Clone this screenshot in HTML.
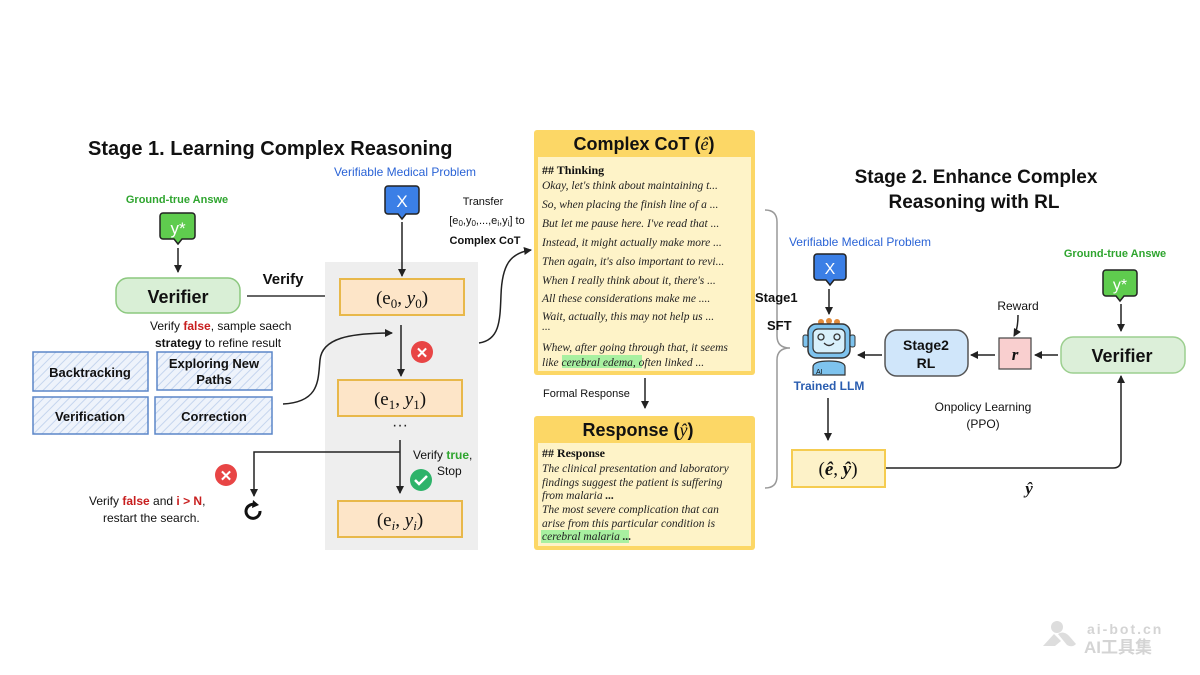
<!DOCTYPE html>
<html><head><meta charset="utf-8"><style>
html,body{margin:0;padding:0;background:#fff;}
svg{display:block;font-family:"Liberation Sans","Noto Sans CJK SC",sans-serif;}
.it{font-family:"Liberation Serif",serif;font-style:italic;font-size:11.5px;fill:#222;}
.ser{font-family:"Liberation Serif",serif;}
</style></head><body>
<svg width="1200" height="675" viewBox="0 0 1200 675" xmlns="http://www.w3.org/2000/svg">
<defs>
<marker id="ar" markerWidth="8" markerHeight="8" refX="7" refY="4" orient="auto" markerUnits="userSpaceOnUse"><path d="M0,0 L8,4 L0,8 Z" fill="#222"/></marker>
<pattern id="hatch" width="6" height="6" patternUnits="userSpaceOnUse" patternTransform="rotate(45)"><rect width="6" height="6" fill="#eef3fb"/><line x1="0" y1="0" x2="0" y2="6" stroke="#c5d5ee" stroke-width="2"/></pattern>
</defs>
<rect width="1200" height="675" fill="#fff"/>

<!-- Stage 1 -->
<text x="88" y="155" font-size="20" font-weight="bold" fill="#111">Stage 1. Learning Complex Reasoning</text>
<text x="405" y="176" font-size="12" fill="#2a63d6" text-anchor="middle">Verifiable Medical Problem</text>
<path d="M388,186 h28 a3,3 0 0 1 3,3 v22 a3,3 0 0 1 -3,3 h-10 l-4,5 l-4,-5 h-10 a3,3 0 0 1 -3,-3 v-22 a3,3 0 0 1 3,-3z" fill="#3b7fe6" stroke="#222" stroke-width="1.5"/>
<text x="402" y="207" font-size="17" fill="#fff" text-anchor="middle">X</text>
<text x="177" y="203" font-size="11" font-weight="bold" fill="#2fa52f" text-anchor="middle">Ground-true Answe</text>
<path d="M163,213 h29 a3,3 0 0 1 3,3 v20 a3,3 0 0 1 -3,3 h-10 l-4,5 l-4,-5 h-11 a3,3 0 0 1 -3,-3 v-20 a3,3 0 0 1 3,-3z" fill="#5fcc4e" stroke="#222" stroke-width="1.5"/>
<text x="178" y="234" font-size="17" fill="#fff" text-anchor="middle">y*</text>
<line x1="178" y1="248" x2="178" y2="272" stroke="#222" stroke-width="1.5" marker-end="url(#ar)"/>
<rect x="116" y="278" width="124" height="35" rx="12" fill="#d9efd6" stroke="#8cc87f" stroke-width="1.5"/>
<text x="178" y="303" font-size="18" font-weight="bold" text-anchor="middle" fill="#111">Verifier</text>
<text x="283" y="284" font-size="15" font-weight="bold" text-anchor="middle" fill="#111">Verify</text>
<line x1="247" y1="296" x2="334" y2="296" stroke="#333" stroke-width="1.5" marker-end="url(#ar)"/>

<rect x="325" y="262" width="153" height="288" fill="#eeeeee"/>
<line x1="402" y1="222" x2="402" y2="276" stroke="#222" stroke-width="1.5" marker-end="url(#ar)"/>
<rect x="340" y="279" width="124" height="36" fill="#fde5c8" stroke="#e8b84a" stroke-width="2"/>
<text x="402" y="304" font-size="19" class="ser" text-anchor="middle" fill="#111">(e<tspan font-size="13" dy="4">0</tspan><tspan dy="-4">, </tspan><tspan font-style="italic">y</tspan><tspan font-size="13" dy="4">0</tspan><tspan dy="-4">)</tspan></text>
<line x1="401" y1="325" x2="401" y2="376" stroke="#222" stroke-width="1.5" marker-end="url(#ar)"/>
<circle cx="422" cy="352" r="11" fill="#e84545"/><text x="422" y="358" font-size="15" font-weight="bold" fill="#fff" text-anchor="middle">✕</text>
<rect x="338" y="380" width="124" height="36" fill="#fde5c8" stroke="#e8b84a" stroke-width="2"/>
<text x="400" y="405" font-size="19" class="ser" text-anchor="middle" fill="#111">(e<tspan font-size="13" dy="4">1</tspan><tspan dy="-4">, </tspan><tspan font-style="italic">y</tspan><tspan font-size="13" dy="4">1</tspan><tspan dy="-4">)</tspan></text>
<text x="400" y="430" font-size="16" text-anchor="middle" fill="#222">···</text>
<line x1="400" y1="440" x2="400" y2="493" stroke="#222" stroke-width="1.5" marker-end="url(#ar)"/>
<polyline points="400,452 254,452 254,496" fill="none" stroke="#222" stroke-width="1.5" marker-end="url(#ar)"/>
<text x="413" y="459" font-size="12" fill="#111">Verify <tspan fill="#2fa52f" font-weight="bold">true</tspan>,</text>
<text x="437" y="475" font-size="12" fill="#111">Stop</text>
<circle cx="421" cy="480" r="11" fill="#2eb36a"/><path d="M415,480 l4,4 l8,-8" fill="none" stroke="#fff" stroke-width="2.5"/>
<rect x="338" y="501" width="124" height="36" fill="#fde5c8" stroke="#e8b84a" stroke-width="2"/>
<text x="400" y="526" font-size="19" class="ser" text-anchor="middle" fill="#111">(e<tspan font-size="13" dy="4" font-style="italic">i</tspan><tspan dy="-4">, </tspan><tspan font-style="italic">y</tspan><tspan font-size="13" dy="4" font-style="italic">i</tspan><tspan dy="-4">)</tspan></text>
<circle cx="226" cy="475" r="11" fill="#e84545"/><text x="226" y="481" font-size="15" font-weight="bold" fill="#fff" text-anchor="middle">✕</text>
<text x="89" y="505" font-size="12" fill="#111">Verify <tspan fill="#c81e1e" font-weight="bold">false</tspan> and <tspan fill="#c81e1e" font-weight="bold">i &gt; N</tspan>,</text>
<text x="103" y="522" font-size="12" fill="#111">restart the search.</text>
<path d="M260,511 a7,7 0 1 1 -4,-6" fill="none" stroke="#111" stroke-width="3"/><path d="M253,500 l6,5 l-7,3z" fill="#111"/>

<text x="150" y="330" font-size="12" fill="#111">Verify <tspan fill="#c81e1e" font-weight="bold">false</tspan>, sample saech</text>
<text x="155" y="347" font-size="12" fill="#111" font-weight="bold">strategy <tspan font-weight="normal">to refine result</tspan></text>
<rect x="33" y="352" width="115" height="39" fill="url(#hatch)" stroke="#5b86c8" stroke-width="1.5"/>
<text x="90" y="377" font-size="13" font-weight="bold" text-anchor="middle" fill="#111">Backtracking</text>
<rect x="157" y="352" width="115" height="38" fill="url(#hatch)" stroke="#5b86c8" stroke-width="1.5"/>
<text x="214" y="368" font-size="13" font-weight="bold" text-anchor="middle" fill="#111">Exploring New</text>
<text x="214" y="384" font-size="13" font-weight="bold" text-anchor="middle" fill="#111">Paths</text>
<rect x="33" y="397" width="115" height="37" fill="url(#hatch)" stroke="#5b86c8" stroke-width="1.5"/>
<text x="90" y="421" font-size="13" font-weight="bold" text-anchor="middle" fill="#111">Verification</text>
<rect x="155" y="397" width="117" height="37" fill="url(#hatch)" stroke="#5b86c8" stroke-width="1.5"/>
<text x="214" y="421" font-size="13" font-weight="bold" text-anchor="middle" fill="#111">Correction</text>
<path d="M283,404 C320,402 318,380 320,360 C322,338 350,333 392,333" fill="none" stroke="#222" stroke-width="1.5" marker-end="url(#ar)"/>

<text x="483" y="205" font-size="11" text-anchor="middle" fill="#111">Transfer</text>
<text x="487" y="224" font-size="11" text-anchor="middle" fill="#111">[e<tspan font-size="8" dy="2">0</tspan><tspan dy="-2">,y</tspan><tspan font-size="8" dy="2">0</tspan><tspan dy="-2">,...,e</tspan><tspan font-size="8" dy="2">i</tspan><tspan dy="-2">,y</tspan><tspan font-size="8" dy="2">i</tspan><tspan dy="-2">] to</tspan></text>
<text x="485" y="244" font-size="11" font-weight="bold" text-anchor="middle" fill="#111">Complex CoT</text>
<path d="M479,343 C500,340 500,320 501,295 C502,265 510,253 531,250" fill="none" stroke="#222" stroke-width="1.5" marker-end="url(#ar)"/>

<!-- Complex CoT -->
<rect x="534" y="130" width="221" height="245" rx="3" fill="#fcd766"/>
<rect x="538" y="157" width="213" height="214" fill="#fef3c8"/>
<text x="644" y="150" font-size="18" font-weight="bold" text-anchor="middle" fill="#111">Complex CoT (<tspan class="ser" font-style="italic" font-weight="normal">ê</tspan>)</text>
<text x="542" y="174" font-size="12" font-weight="bold" class="ser" fill="#111">## Thinking</text>
<text x="542" y="189" class="it">Okay, let's think about maintaining t...</text>
<text x="542" y="208" class="it">So, when placing the finish line of a  ...</text>
<text x="542" y="227" class="it">But let me pause here. I've read that  ...</text>
<text x="542" y="246" class="it">Instead, it might actually make more  ...</text>
<text x="542" y="265" class="it">Then again, it's also important to revi...</text>
<text x="542" y="284" class="it">When I really think about it, there's  ...</text>
<text x="542" y="302" class="it">All these considerations make me  ....</text>
<text x="542" y="320" class="it">Wait, actually, this may not help us ...</text>
<text x="542" y="330" class="it">...</text>
<text x="542" y="351" class="it">Whew, after going through that, it seems</text>
<rect x="562" y="355" width="80" height="13" fill="#a8f0a0"/>
<text x="542" y="366" class="it">like cerebral edema, often linked  ...</text>
<text x="543" y="397" font-size="11" fill="#111">Formal Response</text>
<line x1="645" y1="378" x2="645" y2="408" stroke="#222" stroke-width="1.5" marker-end="url(#ar)"/>
<rect x="534" y="416" width="221" height="134" rx="3" fill="#fcd766"/>
<rect x="538" y="443" width="213" height="103" fill="#fef3c8"/>
<text x="638" y="436" font-size="18" font-weight="bold" text-anchor="middle" fill="#111">Response (<tspan class="ser" font-style="italic" font-weight="normal">ŷ</tspan>)</text>
<text x="542" y="457" font-size="12" font-weight="bold" class="ser" fill="#111">## Response</text>
<text x="542" y="472" class="it">The clinical presentation and laboratory</text>
<text x="542" y="486" class="it">findings suggest the patient is suffering</text>
<text x="542" y="499" class="it">from malaria <tspan font-weight="bold">...</tspan></text>
<text x="542" y="513" class="it">The most severe complication that can</text>
<text x="542" y="527" class="it">arise from this particular condition is</text>
<rect x="541" y="530" width="88" height="13" fill="#a8f0a0"/>
<text x="542" y="540" class="it">cerebral malaria <tspan font-weight="bold">...</tspan></text>

<!-- brace -->
<path d="M765,210 Q777,210 777,222 L777,336 Q777,348 790,348 Q777,348 777,360 L777,476 Q777,488 765,488" fill="none" stroke="#999" stroke-width="1.5"/>
<text x="755" y="302" font-size="13" font-weight="bold" fill="#111">Stage1</text>
<text x="767" y="330" font-size="13" font-weight="bold" fill="#111">SFT</text>

<!-- Stage 2 -->
<text x="976" y="183" font-size="19" font-weight="bold" text-anchor="middle" fill="#111">Stage 2. Enhance Complex</text>
<text x="974" y="208" font-size="19" font-weight="bold" text-anchor="middle" fill="#111">Reasoning with RL</text>
<text x="860" y="246" font-size="12" fill="#2a63d6" text-anchor="middle">Verifiable Medical Problem</text>
<path d="M817,254 h26 a3,3 0 0 1 3,3 v20 a3,3 0 0 1 -3,3 h-9 l-4,5 l-4,-5 h-9 a3,3 0 0 1 -3,-3 v-20 a3,3 0 0 1 3,-3z" fill="#3b7fe6" stroke="#222" stroke-width="1.5"/>
<text x="830" y="274" font-size="16" fill="#fff" text-anchor="middle">X</text>
<line x1="829" y1="289" x2="829" y2="314" stroke="#222" stroke-width="1.5" marker-end="url(#ar)"/>
<!-- robot -->
<circle cx="821" cy="322" r="3" fill="#e08a3a"/><circle cx="829" cy="321" r="3" fill="#e08a3a"/><circle cx="837" cy="322" r="3" fill="#e08a3a"/>
<rect x="808" y="324" width="42" height="34" rx="8" fill="#7ec3ee" stroke="#333" stroke-width="1.5"/>
<rect x="813" y="329" width="32" height="24" rx="5" fill="#d8f0fb" stroke="#333" stroke-width="1.2"/>
<circle cx="821" cy="337" r="3" fill="none" stroke="#333" stroke-width="1.3"/><circle cx="837" cy="337" r="3" fill="none" stroke="#333" stroke-width="1.3"/>
<path d="M824,343 q5,5 10,0" fill="none" stroke="#333" stroke-width="1.3"/>
<rect x="803" y="335" width="5" height="12" rx="2" fill="#7ec3ee" stroke="#333"/><rect x="850" y="335" width="5" height="12" rx="2" fill="#7ec3ee" stroke="#333"/>
<path d="M813,375 v-8 q0,-6 16,-6 q16,0 16,6 v8z" fill="#7ec3ee" stroke="#333" stroke-width="1.2"/>
<text x="816" y="374" font-size="7" fill="#111">AI</text>
<text x="829" y="390" font-size="12" font-weight="bold" fill="#2a5db0" text-anchor="middle">Trained LLM</text>
<rect x="885" y="330" width="83" height="46" rx="12" fill="#d0e6fa" stroke="#555" stroke-width="1.5"/>
<text x="926" y="350" font-size="14" font-weight="bold" text-anchor="middle" fill="#111">Stage2</text>
<text x="926" y="368" font-size="14" font-weight="bold" text-anchor="middle" fill="#111">RL</text>
<line x1="882" y1="355" x2="858" y2="355" stroke="#222" stroke-width="1.5" marker-end="url(#ar)"/>
<rect x="999" y="338" width="32" height="31" fill="#f9cfcf" stroke="#444" stroke-width="1.2"/>
<text x="1015" y="360" font-size="17" font-weight="bold" font-style="italic" class="ser" text-anchor="middle" fill="#111">r</text>
<line x1="995" y1="355" x2="971" y2="355" stroke="#222" stroke-width="1.5" marker-end="url(#ar)"/>
<text x="1018" y="310" font-size="12" text-anchor="middle" fill="#111">Reward</text>
<path d="M1018,315 q0,14 -4,21" fill="none" stroke="#222" stroke-width="1.5" marker-end="url(#ar)"/>
<rect x="1061" y="337" width="124" height="36" rx="12" fill="#dcefd9" stroke="#9ccf8f" stroke-width="1.5"/>
<text x="1122" y="362" font-size="18" font-weight="bold" text-anchor="middle" fill="#111">Verifier</text>
<line x1="1058" y1="355" x2="1035" y2="355" stroke="#222" stroke-width="1.5" marker-end="url(#ar)"/>
<text x="1115" y="257" font-size="11" font-weight="bold" fill="#2fa52f" text-anchor="middle">Ground-true Answe</text>
<path d="M1106,270 h28 a3,3 0 0 1 3,3 v20 a3,3 0 0 1 -3,3 h-10 l-4,5 l-4,-5 h-10 a3,3 0 0 1 -3,-3 v-20 a3,3 0 0 1 3,-3z" fill="#5fcc4e" stroke="#222" stroke-width="1.5"/>
<text x="1120" y="290" font-size="16" fill="#fff" text-anchor="middle">y*</text>
<line x1="1121" y1="304" x2="1121" y2="331" stroke="#222" stroke-width="1.5" marker-end="url(#ar)"/>
<text x="983" y="411" font-size="12" text-anchor="middle" fill="#111">Onpolicy Learning</text>
<text x="983" y="428" font-size="12" text-anchor="middle" fill="#111">(PPO)</text>
<line x1="828" y1="398" x2="828" y2="440" stroke="#222" stroke-width="1.5" marker-end="url(#ar)"/>
<rect x="792" y="450" width="93" height="37" fill="#fdf2c8" stroke="#f5cc50" stroke-width="2"/>
<text x="838" y="475" font-size="19" class="ser" text-anchor="middle" fill="#111">(<tspan font-style="italic" font-weight="bold">ê</tspan>, <tspan font-style="italic" font-weight="bold">ŷ</tspan>)</text>
<path d="M886,468 L1113,468 Q1121,468 1121,460 L1121,376" fill="none" stroke="#222" stroke-width="1.5" marker-end="url(#ar)"/>
<text x="1029" y="494" font-size="17" font-weight="bold" font-style="italic" class="ser" text-anchor="middle" fill="#111">ŷ</text>

<!-- watermark -->
<circle cx="1057" cy="627" r="6" fill="#ddd"/>
<path d="M1043,646 L1054,634 L1061,641 L1055,646 Z" fill="#ddd"/>
<path d="M1058,634 q6,-4 12,3 l6,7 q-4,4 -9,1 z" fill="#ddd"/>
<text x="1087" y="634" font-size="14" fill="#d4d4d4" font-weight="bold" letter-spacing="2">ai-bot.cn</text>
<text x="1084" y="653" font-size="17" fill="#d4d4d4" font-weight="bold">AI工具集</text>
</svg>
</body></html>
